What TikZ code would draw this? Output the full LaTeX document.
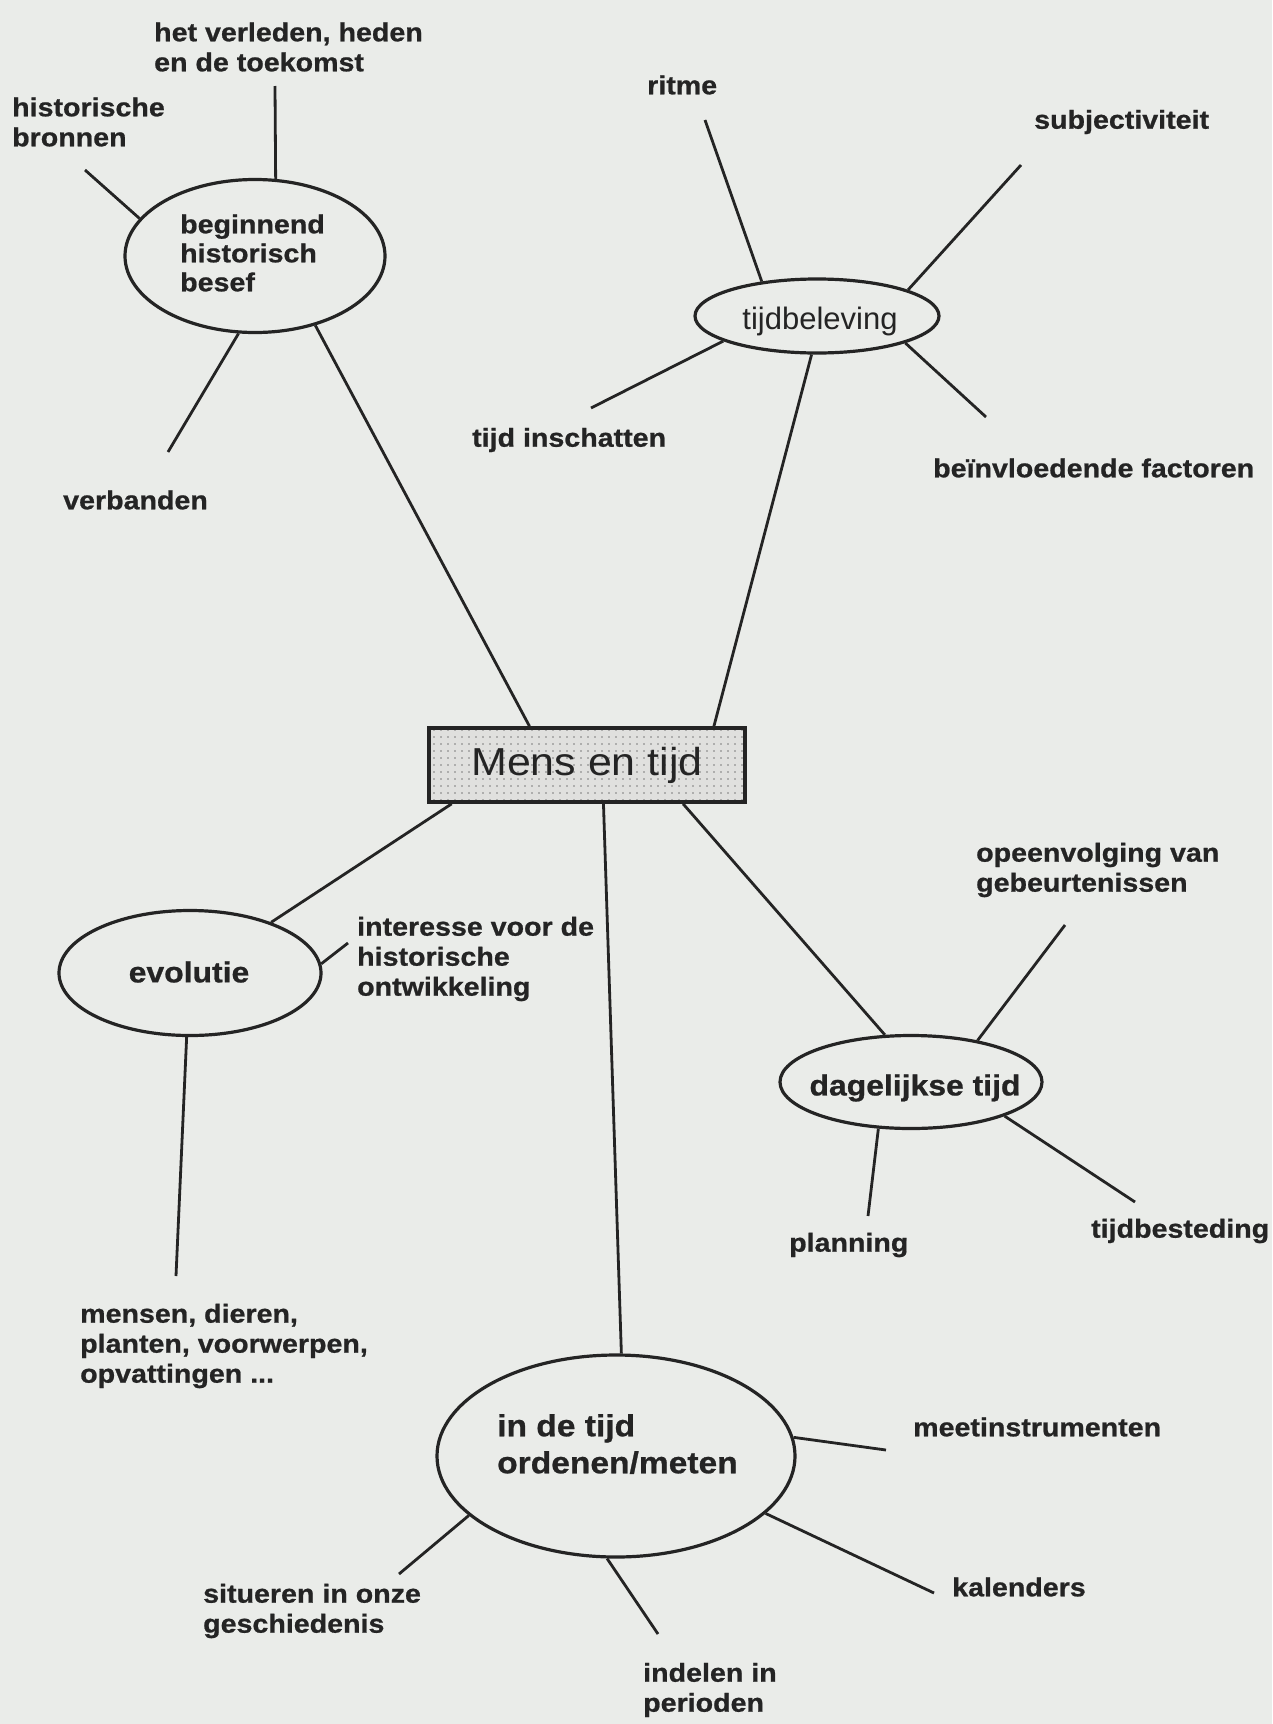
\documentclass[tikz,border=0pt]{standalone}
\usepackage{fontspec}
\setmainfont{Liberation Sans}
\newfontfamily\wideface{Liberation Sans}[FakeStretch=1.1, BoldFeatures={FakeBold=0.8}]
\usetikzlibrary{shapes.geometric,patterns.meta}
\definecolor{paper}{RGB}{234,236,233}
\definecolor{ink}{RGB}{36,36,36}
\definecolor{boxbg}{RGB}{224,224,222}
\tikzset{
  lab/.style={anchor=west, align=left, inner sep=0pt, text=ink,
    font=\wideface\bfseries\fontsize{26}{30}\selectfont},
  oval/.style={ellipse, draw=ink, line width=3.2pt, inner sep=0pt},
  conn/.style={draw=ink, line width=2.8pt},
  centerbox/.style={draw=ink, line width=3.6pt, inner sep=0pt,
    minimum width=316pt, minimum height=74pt,
    preaction={fill=boxbg},
    pattern={Dots[radius=0.8pt,distance=7pt]}, pattern color=ink!60,
    text=ink, font=\wideface\fontsize{39}{44}\selectfont},
  ovaltext/.style={inner sep=0pt, text=ink, align=left,
    font=\wideface\bfseries\fontsize{29}{34}\selectfont}
}
\begin{document}
\begin{tikzpicture}[x=1pt,y=-1pt]
\fill[paper] (0,0) rectangle (1272,1724);
\useasboundingbox (0,0) rectangle (1272,1724);

% central box
\node[centerbox] (mens) at (587,765) {Mens en tijd};

% ellipses
\node[oval, minimum width=260pt, minimum height=153pt] (hist) at (255,256) {};
\node[ovaltext, anchor=west, font=\wideface\bfseries\fontsize{26}{29}\selectfont] (histT) at (180,253) {beginnend\\historisch\\besef};

\node[oval, minimum width=244pt, minimum height=74pt] (bel) at (817,316) {};
\node[inner sep=0pt, text=ink, font=\fontsize{31}{36}\selectfont] (belT) at (820,321) {tijdbeleving};

\node[oval, minimum width=262pt, minimum height=125pt] (evo) at (190,973) {};
\node[ovaltext] (evoT) at (189,972) {evolutie};

\node[oval, minimum width=262pt, minimum height=93pt] (dag) at (911,1082) {};
\node[ovaltext] (dagT) at (915,1088) {dagelijkse tijd};

\node[oval, minimum width=358pt, minimum height=202pt] (ord) at (616,1456) {};
\node[ovaltext, anchor=west, font=\wideface\bfseries\fontsize{30.5}{37}\selectfont] (ordT) at (497,1444) {in de tijd\\ordenen/meten};

% labels
\node[lab] (hv) at (154,47) {het verleden, heden\\en de toekomst};
\node[lab] (hb) at (12,122) {historische\\bronnen};
\node[lab] (vb) at (63,500) {verbanden};
\node[lab] (ri) at (647,85) {ritme};
\node[lab] (su) at (1034,122) {subjectiviteit};
\node[lab] (ti) at (472,440) {tijd inschatten};
\node[lab] (be) at (933,468) {beïnvloedende factoren};
\node[lab] (in) at (357,959) {interesse voor de\\historische\\ontwikkeling};
\node[lab] (me) at (80,1346) {mensen, dieren,\\planten, voorwerpen,\\opvattingen ...};
\node[lab] (op) at (976,870) {opeenvolging van\\gebeurtenissen};
\node[lab] (pl) at (789,1245) {planning};
\node[lab] (tb) at (1091,1231) {tijdbesteding};
\node[lab] (mi) at (913,1427) {meetinstrumenten};
\node[lab] (ka) at (952,1587) {kalenders};
\node[lab] (si) at (203,1611) {situeren in onze\\geschiedenis};
\node[lab] (id) at (643,1690) {indelen in\\perioden};

% free ends of connectors
\coordinate (hvE) at (275,86);
\coordinate (hbE) at (85,170);
\coordinate (vbE) at (168,452);
\coordinate (riE) at (705,120);
\coordinate (suE) at (1021,165);
\coordinate (tiE) at (591,408);
\coordinate (beE) at (986,417);
\coordinate (inE) at (348,943);
\coordinate (meE) at (176,1276);
\coordinate (opE) at (1065,925);
\coordinate (plE) at (868,1216);
\coordinate (tbE) at (1135,1202);
\coordinate (miE) at (886,1450);
\coordinate (kaE) at (934,1593);
\coordinate (idE) at (658,1634);
\coordinate (siE) at (399,1574);

% connectors from the central box
\draw[conn] (mens.146.1) -- (hist.311.6);
\draw[conn] (mens.17.4) -- (bel.262.7);
\draw[conn] (mens.196.9) -- (evo.32);
\draw[conn] (mens.293.4) -- (ord.87.8);
\draw[conn] (mens.338.7) -- (dag.119.9);

% connectors to labels
\draw[conn] (hist.75.3) -- (hvE);
\draw[conn] (hist.162.3) -- (hbE);
\draw[conn] (hist.258.6) -- (vbE);
\draw[conn] (bel.148.3) -- (riE);
\draw[conn] (bel.16.5) -- (suE);
\draw[conn] (bel.195.9) -- (tiE);
\draw[conn] (bel.343.6) -- (beE);
\draw[conn] (evo.4) -- (inE);
\draw[conn] (evo.267.5) -- (meE);
\draw[conn] (dag.32.1) -- (opE);
\draw[conn] (dag.235.2) -- (plE);
\draw[conn] (dag.340.7) -- (tbE);
\draw[conn] (ord.6.7) -- (miE);
\draw[conn] (ord.339.8) -- (kaE);
\draw[conn] (ord.265.6) -- (idE);
\draw[conn] (ord.202.3) -- (siE);
\end{tikzpicture}
\end{document}
